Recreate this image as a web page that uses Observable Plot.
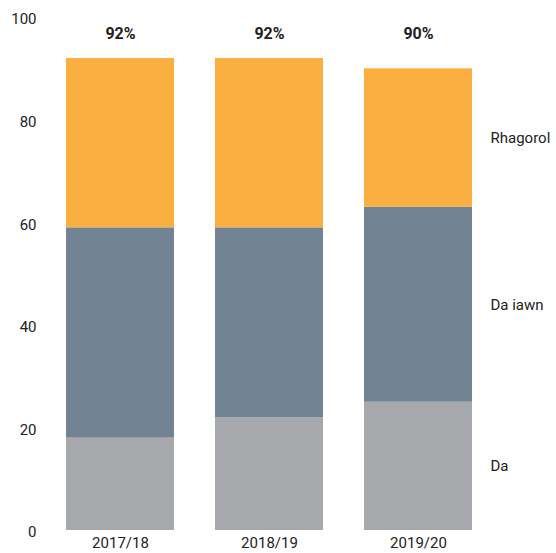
<!DOCTYPE html>
<html>
<head>
<meta charset="utf-8">
<script src="https://cdn.jsdelivr.net/npm/d3@7"></script>
<script src="https://cdn.jsdelivr.net/npm/@observablehq/plot@0.6"></script>
<style>
  html, body { margin: 0; padding: 0; background: #fff; }
  #chart svg { display: block; }
</style>
</head>
<body>
<div id="chart"></div>
<script>
const years = ["2017/18", "2018/19", "2019/20"];
const seriesNames = ["Da", "Da iawn", "Rhagorol"];
const daValues = [18, 22, 25];
const daIawnValues = [41, 37, 38];
const rhagorolValues = [33, 33, 27];
const totalLabels = ["92%", "92%", "90%"];
const yTicks = [0, 20, 40, 60, 80, 100];
const colors = ["#A7A8AC", "#728393", "#FCAF41"];

const seriesValues = [daValues, daIawnValues, rhagorolValues];
const data = [];
seriesNames.forEach((s, si) => {
  years.forEach((y, yi) => data.push({ year: y, series: s, value: seriesValues[si][yi] }));
});
const totals = years.map((y, i) => ({ year: y, label: totalLabels[i] }));
const lastYear = years[years.length - 1];

const chart = Plot.plot({
  width: 556,
  height: 553,
  marginTop: 17,
  marginBottom: 23,
  marginLeft: 44,
  marginRight: 63,
  style: { fontFamily: "Roboto, sans-serif", fontSize: "15px", color: "#222" },
  x: { domain: years, paddingInner: 0.2776, paddingOuter: 0.1405, label: null },
  y: { domain: [0, 100], ticks: yTicks, label: null },
  color: { domain: seriesNames, range: colors },
  marks: [
    Plot.barY(data, { x: "year", y: "value", z: "series", fill: "series", order: seriesNames }),
    Plot.axisY({ ticks: yTicks, tickSize: 0, tickPadding: 8, dy: 2, fontSize: 15, label: null }),
    Plot.axisX({ tickSize: 0, tickPadding: 7, fontSize: 15, label: null }),
    Plot.text(totals, { x: "year", text: "label", frameAnchor: "top", dy: 16.5, fontWeight: "bold", fontSize: 16, lineAnchor: "middle" }),
    Plot.text(data, Plot.stackY({
      x: "year", y: "value", z: "series", order: seriesNames,
      filter: d => d.year === lastYear,
      text: "series", textAnchor: "start", dx: 72, fontSize: 15
    }))
  ]
});
document.getElementById("chart").appendChild(chart);
</script>
</body>
</html>
